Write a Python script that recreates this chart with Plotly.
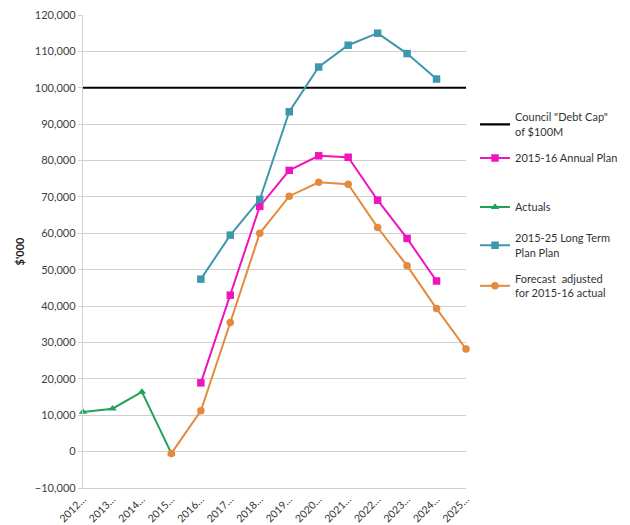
import plotly.graph_objects as go

# Financial years on the category axis
years = ["2012…", "2013…", "2014…", "2015…", "2016…", "2017…", "2018…",
         "2019…", "2020…", "2021…", "2022…", "2023…", "2024…", "2025…"]

# Debt figures in $'000
debt_cap = [100000] * 14
annual_plan = [None, None, None, None, 18900, 43000, 67400, 77300,
               81300, 80900, 69100, 58600, 46900, None]
actuals = [10900, 11800, 16400, -500, None, None, None, None,
           None, None, None, None, None, None]
long_term_plan = [None, None, None, None, 47400, 59500, 69300, 93400,
                  105700, 111700, 115000, 109400, 102400, None]
forecast = [None, None, None, -500, 11200, 35500, 60000, 70200,
            74000, 73500, 61600, 51100, 39300, 28200]

FONT = "Lato"
TEXT = "#404040"

fig = go.Figure()

series = [
    ("Council \"Debt Cap\"<br>of $100M", debt_cap, "#000000", None, 2.2, "legend"),
    ("2015-16 Annual Plan", annual_plan, "#F014BC", "square", 2, "legend2"),
    ("Actuals", actuals, "#21A356", "triangle-up", 2, "legend3"),
    ("2015-25 Long Term<br>Plan Plan", long_term_plan, "#3E98AD", "square", 2, "legend4"),
    ("Forecast  adjusted<br>for 2015-16 actual", forecast, "#E38A3D", "circle", 2, "legend5"),
]

for name, values, color, symbol, width, legend in series:
    fig.add_trace(go.Scatter(
        x=years, y=values, name=name,
        mode="lines" if symbol is None else "lines+markers",
        line=dict(color=color, width=width),
        marker=dict(symbol=symbol or "circle", size=7.5, color=color),
        cliponaxis=False, legend=legend,
    ))

# One legend box per series, placed on the page so each entry sits at its own height
legend_y = {"legend": 0.7629, "legend2": 0.699, "legend3": 0.6057,
            "legend4": 0.5324, "legend5": 0.4552}
legend_common = dict(x=0.754, xref="container", yref="container",
                     xanchor="left", yanchor="middle",
                     bgcolor="rgba(0,0,0,0)", borderwidth=0,
                     font=dict(family=FONT, size=11, color="#333333"))

fig.update_layout(
    width=630, height=525,
    margin=dict(l=83, r=164, t=15, b=37, autoexpand=False),
    paper_bgcolor="white", plot_bgcolor="white",
    font=dict(family=FONT, size=11, color=TEXT),
    showlegend=True,
    **{k: dict(legend_common, y=v) for k, v in legend_y.items()},
)

fig.update_xaxes(
    type="category", range=[0, 13], showgrid=False,
    showline=True, linecolor="#D0D0D0", linewidth=1.3,
    tickangle=-45, ticks="", automargin=False,
    tickfont=dict(family=FONT, size=10.5, color="#333333"),
)
fig.update_yaxes(
    range=[-10000, 120000], dtick=10000, tickformat=",",
    showgrid=True, gridcolor="#D0D0D0", gridwidth=1.3,
    zeroline=False, showline=True, linecolor="#D0D0D0", linewidth=1.3,
    ticks="outside", ticklen=4, tickcolor="#D0D0D0", automargin=False,
    tickfont=dict(family=FONT, size=11, color=TEXT),
    title=dict(text="<b>$'000</b>", standoff=8,
               font=dict(family=FONT, size=11, color="#202020")),
)

fig.write_html("out.html")
